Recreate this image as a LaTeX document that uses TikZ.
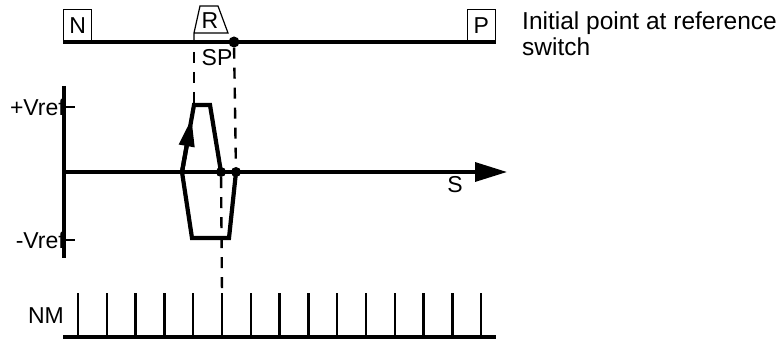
\documentclass[tikz,border=0pt]{standalone}
\usepackage{fontspec}
\setmainfont{Liberation Sans}
\usetikzlibrary{arrows.meta, positioning, calc}
\colorlet{colTrazo}{black}
\tikzset{
  ejeGrueso/.style={line width=3.4pt, colTrazo},
  lineaCiclo/.style={line width=4.2pt, line join=miter, colTrazo},
  trazoFino/.style={line width=1.2pt, colTrazo},
  guia/.style={line width=2.4pt, dash pattern=on 11pt off 9pt, colTrazo},
  marca/.style={line width=2.4pt, colTrazo},
  cajaLetra/.style={draw=colTrazo, line width=1.2pt, minimum width=28pt,
    minimum height=32pt, inner sep=0pt, anchor=south west},
  punto/.style={circle, fill=colTrazo, inner sep=0pt, minimum size=11pt},
  etiqueta/.style={inner sep=0pt, text=colTrazo},
  flechaEje/.style={-{Triangle[length=32pt, width=19pt]}},
  flechaCiclo/.style={-{Triangle[length=28pt, width=15pt]}},
}
\begin{document}
\begin{tikzpicture}[x=1pt, y=-1pt, font=\fontsize{23}{26}\selectfont]
  \useasboundingbox (0,0) rectangle (779,339);
  % carril superior
  \node[cajaLetra] (cajaN) at (63,42) {N};
  \node[cajaLetra, anchor=south east] (cajaP) at (496,42) {P};
  \draw[ejeGrueso] (cajaN.south west) -- (cajaP.south east);
  \coordinate (baseR) at (194,42);
  \draw[trazoFino] (baseR) -- ++(0,-9) coordinate (esqR) -- ++(6,-27) -- ++(18,0)
    -- ++(10,27) -- (esqR);
  \node[etiqueta] (etiqR) at (210,21) {R};
  \node[punto] (puntoRef) at (234,42) {};
  \node[etiqueta] (etiqSP) at (217,58) {SP};
  \node[etiqueta, anchor=north west, align=left, font=\fontsize{24.5}{26}\selectfont]
    (nota) at (522,12) {Initial point at reference\\switch};
  % ejes
  \coordinate (ejeArriba) at (64,86);
  \coordinate (ejeAbajo) at (64,258);
  \coordinate (origen) at (64,172);
  \coordinate (finEje) at (507,172);
  \coordinate (vPos) at (64,107);
  \coordinate (vNeg) at (64,240);
  \draw[ejeGrueso] (ejeArriba) -- (ejeAbajo);
  \draw[ejeGrueso, flechaEje] (origen) -- (finEje);
  \draw[marca] (vPos) -- ++(11,0);
  \draw[marca] (vNeg) -- ++(11,0);
  \node[etiqueta, anchor=east] (etiqVpos) at ([xshift=1pt]vPos) {+Vref};
  \node[etiqueta, anchor=east] (etiqVneg) at ([xshift=1pt]vNeg) {-Vref};
  \node[etiqueta] (etiqS) at (455,185) {S};
  % ciclo
  \node[punto, minimum size=10pt] (puntoIzq) at (221,172) {};
  \node[punto, minimum size=10pt] (puntoDer) at (236,172) {};
  \coordinate (c2) at (229,238);
  \coordinate (c3) at (192,238);
  \coordinate (c4) at (182,172);
  \coordinate (c5) at (194,105);
  \coordinate (c6) at (210,105);
  \draw[lineaCiclo] (puntoDer.center) -- (c2) -- (c3) -- (c4) -- (c5) -- (c6) -- (puntoIzq.center);
  \draw[lineaCiclo, flechaCiclo] (c4) -- ($(c4)!0.8!(c5)$);
  % regla NM
  \coordinate (reglaIni) at (63,337);
  \coordinate (reglaFin) at (496,337);
  \draw[ejeGrueso] (reglaIni) -- (reglaFin);
  \foreach \i in {0,...,14}
    \draw[marca] (78+28.8*\i,337) coordinate (pie\i) -- ++(0,-44) coordinate (tope\i);
  \node[etiqueta, anchor=east] (etiqNM) at (64,316) {NM};
  % guias
  \draw[guia] (baseR) ++(0,10) -- (c5);
  \draw[guia] (puntoRef) -- (puntoDer);
  \draw[guia] (puntoIzq) -- (tope5);
\end{tikzpicture}
\end{document}
